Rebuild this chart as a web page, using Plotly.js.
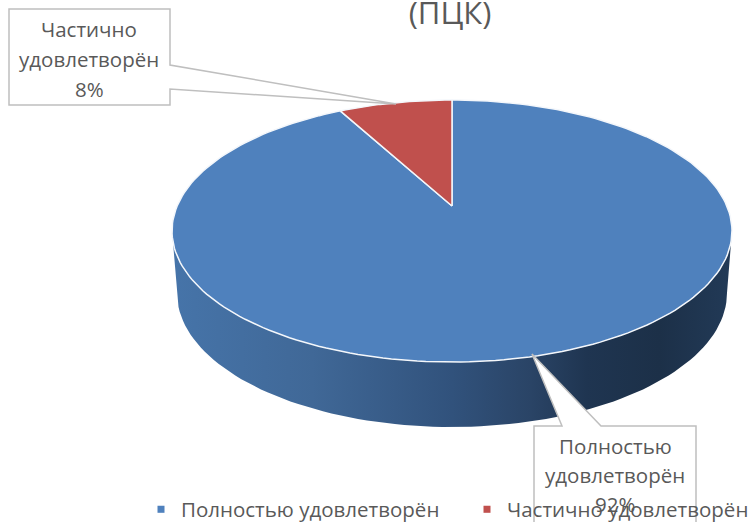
<!DOCTYPE html>
<html><head><meta charset="utf-8"><script src="https://cdn.plot.ly/plotly-3.0.1.min.js"></script>
<style>html,body{margin:0;padding:0;background:#fff;overflow:hidden}</style></head><body><div id="c" style="width:750px;height:522px"></div>
<script>
const categories=["Полностью удовлетворён","Частично удовлетворён"];
const values=[92,8];
const sliceColors=["#4f81bd","#c0504d"];
const titleText="(ПЦК)";
const calloutLines=[["Полностью","удовлетворён","92%"],["Частично","удовлетворён","8%"]];
const textColor="#595959",boxColor="#bfbfbf",font="Open Sans";

const E={cx:452,cy:231,rx:280,ry:131,ax:452,ay:206};
const B={cx:452,cy:293,rx:275,ry:134};
function rim(aDeg){
  const a=aDeg*Math.PI/180,dx=E.rx*Math.sin(a),dy=-E.ry*Math.cos(a);
  const ox=(E.ax-E.cx)/E.rx,oy=(E.ay-E.cy)/E.ry,px=dx/E.rx,py=dy/E.ry;
  const A=px*px+py*py,Bq=2*(ox*px+oy*py),C=ox*ox+oy*oy-1;
  const t=(-Bq+Math.sqrt(Bq*Bq-4*A*C))/(2*A);
  return [E.ax+t*dx,E.ay+t*dy];
}
const total=values.reduce((s,v)=>s+v,0);
const traces=[];
const wx=[],wy=[];
for(let d=90;d<=270;d+=2){const r=d*Math.PI/180;wx.push(E.cx+E.rx*Math.sin(r));wy.push(E.cy-E.ry*Math.cos(r));}
for(let d=270;d>=90;d-=2){const r=d*Math.PI/180;wx.push(B.cx+B.rx*Math.sin(r));wy.push(B.cy-B.ry*Math.cos(r));}
traces.push({type:"scatter",mode:"lines",x:wx,y:wy,fill:"toself",showlegend:false,hoverinfo:"skip",
  line:{color:"rgba(0,0,0,0)",width:0},
  fillgradient:{type:"horizontal",colorscale:[[0,"#4674a9"],[0.25,"#406897"],[0.5,"#31527c"],[0.64,"#2a4466"],[0.74,"#1f3551"],[0.87,"#1c3048"],[1,"#223a57"]]}});
let start=0;
values.forEach((v,i)=>{
  const end=start+v/total*360,xs=[E.ax],ys=[E.ay];
  for(let d=start;d<end;d+=1.5){const p=rim(d);xs.push(p[0]);ys.push(p[1]);}
  const p=rim(end);xs.push(p[0],E.ax);ys.push(p[1],E.ay);
  traces.push({type:"scatter",mode:"lines",x:xs,y:ys,fill:"toself",fillcolor:sliceColors[i],name:categories[i],
    line:{color:"#f4f7fb",width:1.5},showlegend:false,hovertemplate:categories[i]+": "+v+"%<extra></extra>"});
  start=end;
});
categories.forEach((c,i)=>traces.push({type:"scatter",mode:"markers",x:[null],y:[null],name:c,
  marker:{symbol:"square",size:7,color:sliceColors[i]},showlegend:true}));

const box=[{x0:534,x1:696,y0:426,y1:530,tail:[[562,426],[532,354],[601,426]],tx:615,ty:[446,475,504]},
           {x0:9,x1:170,y0:9,y1:105,tail:[[170,65],[396,104],[170,89]],tx:89,ty:[29,59,89]}];
const shapes=[],annotations=[];
box.forEach((b,i)=>{
  let path;
  if(i===0){path=`M${b.x0},${b.y0}L${b.tail[0]}L${b.tail[1]}L${b.tail[2]}L${b.x1},${b.y0}L${b.x1},${b.y1}L${b.x0},${b.y1}Z`;}
  else{path=`M${b.x0},${b.y0}L${b.x1},${b.y0}L${b.tail[0]}L${b.tail[1]}L${b.tail[2]}L${b.x1},${b.y1}L${b.x0},${b.y1}Z`;}
  shapes.push({type:"path",path,xref:"x",yref:"y",layer:"above",fillcolor:"#fff",line:{color:boxColor,width:1.5}});
  calloutLines[i].forEach((t,j)=>annotations.push({text:t,x:b.tx,y:b.ty[j],xref:"x",yref:"y",showarrow:false,xanchor:"center",yanchor:"middle",font:{family:font,size:20.5,color:textColor}}));
});
Plotly.newPlot("c",traces,{
  width:750,height:522,margin:{l:0,r:0,t:0,b:0,autoexpand:false},paper_bgcolor:"#fff",plot_bgcolor:"#fff",
  title:{text:titleText,x:0.6,xanchor:"center",y:0.974,yanchor:"middle",automargin:false,font:{family:font,size:31,color:textColor}},
  xaxis:{range:[0,750],visible:false,fixedrange:true},
  yaxis:{range:[522,0],visible:false,fixedrange:true},
  showlegend:true,
  legend:{orientation:"h",x:0.188,xanchor:"left",y:0.024,yanchor:"middle",font:{family:font,size:20.5,color:textColor},bgcolor:"rgba(0,0,0,0)",itemsizing:"trace",traceorder:"normal",itemwidth:30,entrywidth:281,entrywidthmode:"pixels"},
  shapes,annotations
},{displayModeBar:false});
</script></body></html>
